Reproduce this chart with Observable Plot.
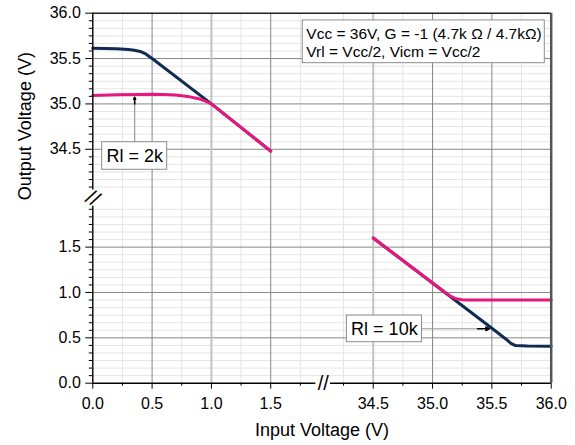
<!DOCTYPE html>
<html><head><meta charset="utf-8">
<script src="https://cdn.jsdelivr.net/npm/d3@7"></script>
<script src="https://cdn.jsdelivr.net/npm/@observablehq/plot@0.6"></script>
<style>html,body{margin:0;padding:0;background:#fff}</style>
</head><body><div id="chart"></div>
<script>
// Tick values
const xMajorTicks = [0, 0.5, 1.0, 1.5, 34.5, 35.0, 35.5, 36.0];
const yMajorTicks = [0, 0.5, 1.0, 1.5, 34.5, 35.0, 35.5, 36.0];
const xMinorTicks = [0.25, 0.75, 1.25, 1.75, 34.25, 34.75, 35.25, 35.75];
const yMinorSteps = d3.range(1, 24).filter(k => k % 6 !== 0);
const yMinorTicks = [...yMinorSteps.map(k => k / 12), ...yMinorSteps.map(k => 36 - k / 12)];

// Series: Rl = 10k (navy), Rl = 2k (pink); low input range (top of output) and high input range
const rl10kLowVin  = [0, 0.1, 0.2, 0.3, 0.35, 0.4, 0.45, 0.5, 1.0, 1.5];
const rl10kLowVout = [35.615, 35.612, 35.608, 35.600, 35.592, 35.578, 35.548, 35.50, 35.0, 34.48];
const rl2kLowVin   = [0, 0.2, 0.4, 0.5, 0.6, 0.7, 0.8, 0.9, 0.95, 1.0, 1.5];
const rl2kLowVout  = [35.093, 35.10, 35.105, 35.106, 35.104, 35.098, 35.083, 35.055, 35.03, 35.0, 34.48];
const rl10kHighVin  = [34.5, 35.0, 35.5, 35.62, 35.66, 35.7, 35.8, 36.0];
const rl10kHighVout = [1.60, 1.105, 0.605, 0.485, 0.44, 0.415, 0.41, 0.408];
const rl2kHighVin   = [34.5, 35.0, 35.1, 35.15, 35.2, 35.25, 35.3, 36.0];
const rl2kHighVout  = [1.60, 1.105, 1.005, 0.96, 0.93, 0.92, 0.918, 0.918];

const toRows = (xs, ys) => xs.map((x, i) => ({vin: x, vout: ys[i]}));
const rl10kLow = toRows(rl10kLowVin, rl10kLowVout);
const rl2kLow = toRows(rl2kLowVin, rl2kLowVout);
const rl10kHigh = toRows(rl10kHighVin, rl10kHighVout);
const rl2kHigh = toRows(rl2kHighVin, rl2kHighVout);

const navy = "#0f2b52", pink = "#e8177f";
const majorGrid = "#878787", minorGrid = "#e4e4e4";
const fmt = d3.format(".1f");

const chart = Plot.plot({
  width: 575, height: 445,
  marginLeft: 92.3, marginRight: 24.3, marginTop: 12.7, marginBottom: 62.3,
  style: {fontFamily: "'Liberation Sans', Arial, sans-serif", fontSize: "16px", background: "#fff", color: "#000"},
  x: {type: "linear", domain: [0, 1.88, 34.14, 36], range: [92.3, 315.3, 330, 550.7], axis: null},
  y: {type: "linear", domain: [0, 1.95, 34.05, 36], range: [382.7, 205.8, 189.6, 12.7], axis: null},
  marks: [
    Plot.gridY(yMinorTicks, {stroke: minorGrid, strokeOpacity: 1}),
    Plot.gridX(xMinorTicks, {stroke: minorGrid, strokeOpacity: 1}),
    Plot.gridY([0.5, 1.0, 1.5, 34.5, 35.0, 35.5], {stroke: majorGrid, strokeOpacity: 1}),
    Plot.gridX([0.5, 1.5, 35.0, 35.5], {stroke: majorGrid, strokeOpacity: 1}),
    Plot.gridX([1.0, 34.5], {stroke: "#c2c2c2", strokeOpacity: 1, strokeWidth: 2}),
    // data lines
    Plot.line(rl10kLow, {x: "vin", y: "vout", stroke: navy, strokeWidth: 3}),
    Plot.line(rl2kLow, {x: "vin", y: "vout", stroke: pink, strokeWidth: 3}),
    Plot.line(rl10kHigh, {x: "vin", y: "vout", stroke: navy, strokeWidth: 3}),
    Plot.line(rl2kHigh, {x: "vin", y: "vout", stroke: pink, strokeWidth: 3}),
    // frame
    Plot.ruleY([36], {stroke: "#222", strokeWidth: 1.5}),
    Plot.ruleX([36], {stroke: "#555", strokeWidth: 2.5}),
    Plot.ruleX([0], {y1: 0, y2: 1.95, stroke: "#000", strokeWidth: 1.4}),
    Plot.ruleX([0], {y1: 34.05, y2: 36, stroke: "#000", strokeWidth: 1.4}),
    Plot.ruleY([0], {x1: 0, x2: 1.88, stroke: "#000", strokeWidth: 1.4}),
    Plot.ruleY([0], {x1: 34.14, x2: 36, stroke: "#000", strokeWidth: 1.4}),
    // axes
    Plot.axisY(yMajorTicks, {tickSize: 7, tickPadding: 5, tickFormat: fmt, fontSize: 16, label: null}),
    Plot.axisY(yMinorTicks, {tickSize: 3.5, tickFormat: () => "", label: null}),
    Plot.axisX(xMajorTicks, {tickSize: 6, tickPadding: 8, tickFormat: fmt, fontSize: 16, label: null}),
    Plot.axisX(xMinorTicks, {tickSize: 3, tickFormat: () => "", label: null}),
    // break marks
    Plot.text(["//"], {x: 1.88, y: 0, dx: 7.5, fontSize: 20, lineAnchor: "middle", text: d => d}),
    Plot.text(["//"], {x: 0, y: 1.95, dy: -8, fontSize: 21, rotate: 32, lineAnchor: "middle", text: d => d}),
    // axis titles
    Plot.text(["Output Voltage (V)"], {frameAnchor: "left", rotate: -90, dx: -62.3, dy: 2, fontSize: 18, lineAnchor: "bottom", text: d => d}),
    Plot.text(["Input Voltage (V)"], {frameAnchor: "bottom", dy: 52.3, fontSize: 18, lineAnchor: "bottom", text: d => d}),
    // info box
    Plot.rect([0], {x1: 1.77, x2: 35.946, y1: 35.449, y2: 35.92, fill: "#fff", stroke: "#8c8c8c"}),
    Plot.text(["Vcc = 36V, G = -1 (4.7k \u03A9 / 4.7k\u03A9)"], {x: 1.80, y: 35.714, textAnchor: "start", lineAnchor: "bottom", fontSize: 15.5, text: d => d}),
    Plot.text(["Vrl = Vcc/2, Vicm = Vcc/2"], {x: 1.80, y: 35.512, textAnchor: "start", lineAnchor: "bottom", fontSize: 15.5, text: d => d}),
    // Rl = 2k label
    Plot.link([0], {x1: 0.353, y1: 34.578, x2: 0.353, y2: 35.02, stroke: "#999", strokeWidth: 1.2}),
    Plot.arrow([0], {x1: 0.353, y1: 35.0, x2: 0.353, y2: 35.074, stroke: "#000", strokeWidth: 1.6, headLength: 6, headAngle: 50}),
    Plot.rect([0], {x1: 0.079, x2: 0.627, y1: 34.274, y2: 34.578, fill: "#fff", stroke: "#8c8c8c"}),
    Plot.text(["Rl = 2k"], {x: 0.353, y: 34.426, fontSize: 18, lineAnchor: "middle", text: d => d}),
    // Rl = 10k label
    Plot.link([0], {x1: 34.911, y1: 0.6, x2: 35.40, y2: 0.6, stroke: "#999", strokeWidth: 1.2}),
    Plot.arrow([0], {x1: 35.38, y1: 0.6, x2: 35.478, y2: 0.6, stroke: "#000", strokeWidth: 1.6, headLength: 7, headAngle: 50}),
    Plot.rect([0], {x1: 34.278, x2: 34.911, y1: 0.452, y2: 0.746, fill: "#fff", stroke: "#8c8c8c"}),
    Plot.text(["Rl = 10k"], {x: 34.594, y: 0.6, fontSize: 18, lineAnchor: "middle", text: d => d})
  ]
});
document.getElementById("chart").appendChild(chart);
</script>
</body></html>
